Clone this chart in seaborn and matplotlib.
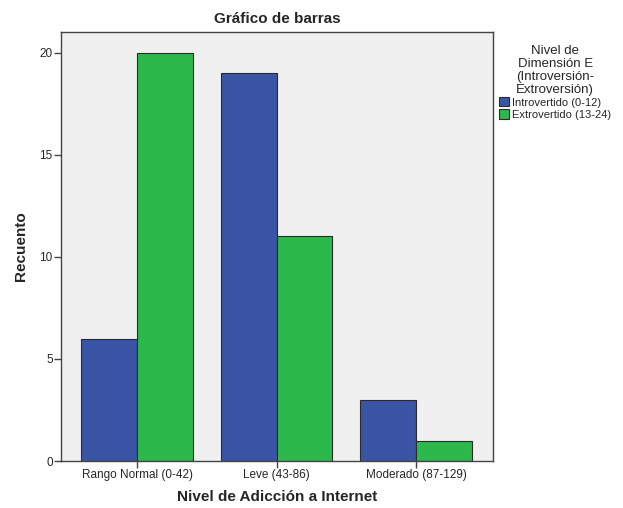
import pandas as pd
import matplotlib.pyplot as plt
import seaborn as sns

# Datos
categorias = ["Rango Normal (0-42)", "Leve (43-86)", "Moderado (87-129)"]
introvertido = [6, 19, 3]
extrovertido = [20, 11, 1]
grupos = ["Introvertido (0-12)", "Extrovertido (13-24)"]

df = pd.DataFrame({
    "nivel": categorias * 2,
    "grupo": [grupos[0]] * 3 + [grupos[1]] * 3,
    "recuento": introvertido + extrovertido,
})

sns.set_style("white")
plt.rcParams['font.family'] = ['Liberation Sans', 'DejaVu Sans']

fig = plt.figure(figsize=(6.23, 5.08), dpi=100)
ax = fig.add_axes([0.098, 0.0925, 0.693, 0.845])
ax.set_facecolor("#f0f0f0")

sns.barplot(data=df, x="nivel", y="recuento", hue="grupo", order=categorias,
            hue_order=grupos, palette=["#3a54a6", "#2db84b"], width=0.8,
            saturation=1, edgecolor="#2b2b2b", linewidth=0.8, ax=ax)

ax.set_xlim(-0.545, 2.55)
ax.set_ylim(0, 21.03)
ax.set_yticks([0, 5, 10, 15, 20])
for s in ax.spines.values():
    s.set_color("#444444")
    s.set_linewidth(1.0)
ax.tick_params(axis="both", direction="out", length=5, width=1, color="#444444",
               labelsize=8.5, pad=1, bottom=True, left=True)

ax.set_xlabel("Nivel de Adicción a Internet", fontsize=11, fontweight="bold", labelpad=6)
ax.set_ylabel("Recuento", fontsize=11, fontweight="bold", labelpad=8)
ax.set_title("Gráfico de barras", fontsize=11, fontweight="bold", pad=6)

leg = ax.legend(title="Nivel de\nDimensión E\n(Introversión-\nExtroversión)",
                loc="upper left", bbox_to_anchor=(1.0, 0.985), frameon=False,
                fontsize=8, title_fontsize=9.5, handlelength=0.9, handleheight=0.9,
                handletextpad=0.2, borderaxespad=0.2, labelspacing=0.15)
leg.get_title().set_multialignment("center")
leg.get_title().set_linespacing(1.1)

fig.savefig("out.png", dpi=100)
